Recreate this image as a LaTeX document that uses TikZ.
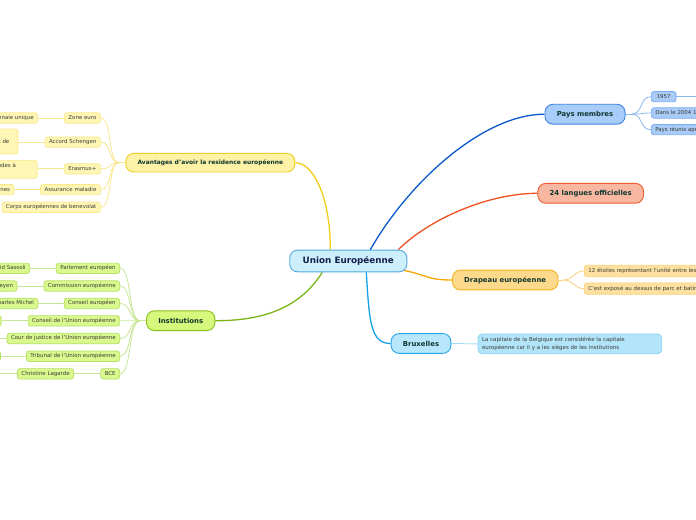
\documentclass[tikz,border=0pt]{standalone}
\usepackage{fontspec}
\setmainfont{DejaVu Sans}
\usetikzlibrary{calc}
\definecolor{rootF}{HTML}{CDEEFD}
\definecolor{rootB}{HTML}{4FA9E0}
\definecolor{rootT}{HTML}{14214D}
\definecolor{topicT}{HTML}{10362F}
\definecolor{leafT}{HTML}{3A3A35}
\definecolor{paysF}{HTML}{A9CDFA}
\definecolor{paysB}{HTML}{3B84E0}
\definecolor{langF}{HTML}{F8B7A1}
\definecolor{langB}{HTML}{EE5A2C}
\definecolor{drapF}{HTML}{FDD98B}
\definecolor{drapB}{HTML}{F3B21B}
\definecolor{bxF}{HTML}{B8E7FB}
\definecolor{bxB}{HTML}{27A7E3}
\definecolor{avF}{HTML}{FDF2A5}
\definecolor{avB}{HTML}{ECCF27}
\definecolor{instF}{HTML}{D6F87C}
\definecolor{instB}{HTML}{88BF1C}
\definecolor{lyF}{HTML}{FEF6B5}
\definecolor{lyB}{HTML}{FBE88B}
\definecolor{lgF}{HTML}{D9F98E}
\definecolor{lgB}{HTML}{B6E061}
\definecolor{lbF}{HTML}{A8CBF7}
\definecolor{lbB}{HTML}{7AAAF0}
\definecolor{loF}{HTML}{FDE1A0}
\definecolor{loB}{HTML}{FCD17C}
\definecolor{lcF}{HTML}{B3E5FA}
\definecolor{lcB}{HTML}{86D1F4}
\definecolor{cBlue}{HTML}{0A58CC}
\definecolor{cRed}{HTML}{EF5222}
\definecolor{cOrange}{HTML}{F5A700}
\definecolor{cCyan}{HTML}{15A2E6}
\definecolor{cYellow}{HTML}{F1CF18}
\definecolor{cGreen}{HTML}{7CB518}
\definecolor{kYellow}{HTML}{F8E78F}
\definecolor{kGreen}{HTML}{C8E796}
\definecolor{kBlue}{HTML}{8CB6EE}
\definecolor{kOrange}{HTML}{FBD07A}
\definecolor{kCyan}{HTML}{9ADCF6}
\pgfdeclarelayer{bg}
\pgfsetlayers{bg,main}
\tikzset{
  rootbox/.style={draw=rootB, fill=rootF, line width=0.9bp, rounded corners=8bp,
    minimum height=21.7bp, inner xsep=13bp, inner ysep=0pt, text=rootT,
    font=\bfseries\fontsize{8.8bp}{10bp}\selectfont},
  topicbox/.style={rounded corners=8bp, minimum height=19.8bp, inner xsep=11.8bp,
    inner ysep=0pt, line width=0.9bp, text=topicT,
    font=\bfseries\fontsize{6.9bp}{8bp}\selectfont},
  leafbox/.style={rounded corners=2.5bp, line width=0.7bp, inner xsep=4bp,
    inner ysep=2.6bp, text height=4bp, text depth=1.2bp, text=leafT,
    font=\fontsize{5.45bp}{7.2bp}\selectfont},
  leafml/.style={rounded corners=2.5bp, line width=0.7bp, inner xsep=4bp,
    inner ysep=2.6bp, align=left, text=leafT,
    font=\fontsize{5.45bp}{7.2bp}\selectfont},
  leafY/.style={leafbox, fill=lyF, draw=lyB},
  leafYml/.style={leafml, fill=lyF, draw=lyB},
  leafG/.style={leafbox, fill=lgF, draw=lgB},
  leafB/.style={leafbox, fill=lbF, draw=lbB},
  leafO/.style={leafbox, fill=loF, draw=loB, minimum height=11.4bp},
  leafC/.style={leafml, fill=lcF, draw=lcB, inner ysep=3.5bp, rounded corners=4bp},
  ghost/.style={minimum width=50bp},
  mainline/.style={line width=1.3bp},
  thinline/.style={line width=0.8bp},
}
\begin{document}
\begin{tikzpicture}[x=1bp,y=-1bp]
\useasboundingbox (0,0) rectangle (696,520);
\clip (0,0) rectangle (696,520);

% central and main topics
\node[rootbox] (root) at (348.3,261) {Union Européenne};
\node[topicbox, fill=paysF, draw=paysB] (pays) at (585,114.2) {Pays membres};
\node[topicbox, fill=langF, draw=langB] (langues) at (590.7,193.3) {24 langues officielles};
\node[topicbox, fill=drapF, draw=drapB] (drapeau) at (505.2,280) {Drapeau européenne};
\node[topicbox, fill=bxF, draw=bxB] (bruxelles) at (421,343.5) {Bruxelles};
\node[topicbox, fill=avF, draw=avB, minimum height=18.7bp,
      font=\bfseries\fontsize{5.94bp}{7bp}\selectfont] (avantages) at (210.3,162.7)
      {Avantages d'avoir la residence européenne};
\node[topicbox, fill=instF, draw=instB] (institutions) at (180.7,320.7) {Institutions};

% Avantages children
\node[leafY, anchor=east] (zone) at (100.7,118) {Zone euro};
\node[leafY, anchor=east] (schengen) at (100.7,142.2) {Accord Schengen};
\node[leafY, anchor=east] (erasmus) at (100.7,168.9) {Erasmus+};
\node[leafY, anchor=east] (assurance) at (100.7,189.7) {Assurance maladie};
\node[leafY, anchor=east] (corps) at (100.7,207.3) {Corps européennes de benevolat};
\node[leafY, anchor=east] (monnaie) at (38,118) {Monnaie unique};
\node[leafYml, anchor=east, text width=89.6bp] (schengenC) at (18.3,141.5)
      {Voyager librement\\sans contrôle aux frontières de\\l'espace};
\node[leafYml, anchor=east, text width=104.2bp] (erasmusC) at (37.7,169.3)
      {Possibilité de faire des études à\\l'étranger};
\node[leafY, anchor=east] (assuranceC) at (14.3,189.7) {Accès aux soins pour toutes les personnes};

% Institutions children
\node[leafG, anchor=east] (parlement) at (120,268.3) {Parlement européen};
\node[leafG, anchor=east] (commission) at (120,286) {Commission européenne};
\node[leafG, anchor=east] (conseileu) at (120,303.5) {Conseil européen};
\node[leafG, anchor=east] (conseilue) at (120,320.8) {Conseil de l'Union européenne};
\node[leafG, anchor=east] (cour) at (120,338.5) {Cour de justice de l'Union européenne};
\node[leafG, anchor=east] (tribunal) at (120,356.2) {Tribunal de l'Union européenne};
\node[leafG, anchor=east] (bce) at (120,373.8) {BCE};
\node[leafG, anchor=east] (sassoli) at (30,268.3) {David Sassoli};
\node[leafG, anchor=east] (leyen) at (17.3,286) {Ursula von der Leyen};
\node[leafG, anchor=east] (michel) at (38.3,303.5) {Charles Michel};
\node[leafG, ghost, anchor=east] (conseilueC) at (1.5,320.8) {};
\node[leafG, ghost, anchor=east] (courC) at (-3,338.5) {};
\node[leafG, ghost, anchor=east] (tribunalC) at (0.8,356.2) {};
\node[leafG, anchor=east] (lagarde) at (74,373.8) {Christine Lagarde};
\node[leafG, ghost, anchor=east] (lagardeC) at (-3,373.8) {};

% Pays membres children
\node[leafB, anchor=west, minimum width=24.7bp] (y1957) at (651,96.7) {1957};
\node[leafB, anchor=west] (y2004) at (651,113) {Dans le 2004 10 pays ont rejoint l'Union européenne};
\node[leafB, anchor=west] (reunis) at (651,129.7) {Pays réunis après la Seconde Guerre mondiale};
\node[leafB, ghost, anchor=west] (y1957C) at (702,96.7) {};

% Drapeau children
\node[leafO, anchor=west] (etoiles) at (584,271) {12 étoiles représentant l'unité entre les peuples d'Europe};
\node[leafO, anchor=west] (expose) at (584,288.6) {C'est exposé au dessus de parc et batiments publics};

% Bruxelles child
\node[leafC, anchor=west, text width=175.6bp] (capitale) at (477.7,343.9)
      {La capitale de la Belgique est considérée la capitale\\européenne car il y a les sièges de les institutions};

\begin{pgfonlayer}{bg}
\fill[white] (0,0) rectangle (696,520);
% main connectors
\draw[mainline, cBlue] ($(root.north)+(22,0)$) .. controls +(40,-70) and +(-60,0) .. (pays.west);
\draw[mainline, cRed] ($(root.north)+(50,0)$) .. controls +(30,-30) and +(-50,0) .. (langues.west);
\draw[mainline, cOrange] ($(root.south east)+(-4,-2)$) .. controls +(25,5) and +(-25,0) .. (drapeau.west);
\draw[mainline, cCyan] ($(root.south)+(18,0)$) .. controls +(3,50) and +(-20,0) .. (bruxelles.west);
\draw[mainline, cYellow] ($(root.north)+(-18,0)$) .. controls +(0,-55) and +(17,0) .. (avantages.east);
\draw[mainline, cGreen] ($(root.south)+(-26,0)$) .. controls +(-25,40) and +(40,0) .. (institutions.east);

% Avantages fan
\coordinate (avj) at ($(avantages.west)+(-6,0)$);
\draw[thinline, kYellow] (avantages.west) -- (avj);
\foreach \c in {zone,schengen,erasmus,assurance,corps}
  \draw[thinline, kYellow] (avj) .. controls +(-12,0) and +(12,0) .. (\c.east);
\draw[thinline, kYellow] (zone.west) -- (monnaie.east);
\draw[thinline, kYellow] (schengen.west) -- (schengen.west -| schengenC.east);
\draw[thinline, kYellow] (erasmus.west) -- (erasmus.west -| erasmusC.east);
\draw[thinline, kYellow] (assurance.west) -- (assuranceC.east);

% Institutions fan
\coordinate (inj) at ($(institutions.west)+(-6,0)$);
\draw[thinline, kGreen] (institutions.west) -- (inj);
\foreach \c in {parlement,commission,conseileu,conseilue,cour,tribunal,bce}
  \draw[thinline, kGreen] (inj) .. controls +(-12,0) and +(12,0) .. (\c.east);
\draw[thinline, kGreen] (parlement.west) -- (sassoli.east);
\draw[thinline, kGreen] (commission.west) -- (leyen.east);
\draw[thinline, kGreen] (conseileu.west) -- (michel.east);
\draw[thinline, kGreen] (conseilue.west) -- (conseilueC.east);
\draw[thinline, kGreen] (cour.west) -- (courC.east);
\draw[thinline, kGreen] (tribunal.west) -- (tribunalC.east);
\draw[thinline, kGreen] (bce.west) -- (lagarde.east);
\draw[thinline, kGreen] (lagarde.west) -- (lagardeC.east);

% Pays fan
\coordinate (paj) at ($(pays.east)+(6,0)$);
\draw[thinline, kBlue] (pays.east) -- (paj);
\foreach \c in {y1957,y2004,reunis}
  \draw[thinline, kBlue] (paj) .. controls +(12,0) and +(-12,0) .. (\c.west);
\draw[thinline, kBlue] (y1957.east) -- (y1957C.west);

% Drapeau fan
\coordinate (drj) at ($(drapeau.east)+(5,0)$);
\draw[thinline, kOrange] (drapeau.east) -- (drj);
\foreach \c in {etoiles,expose}
  \draw[thinline, kOrange] (drj) .. controls +(10,0) and +(-10,0) .. (\c.west);

% Bruxelles child
\draw[thinline, kCyan] (bruxelles.east) .. controls +(12,0) and +(-12,0) .. (capitale.west);
\end{pgfonlayer}
\end{tikzpicture}
\end{document}
